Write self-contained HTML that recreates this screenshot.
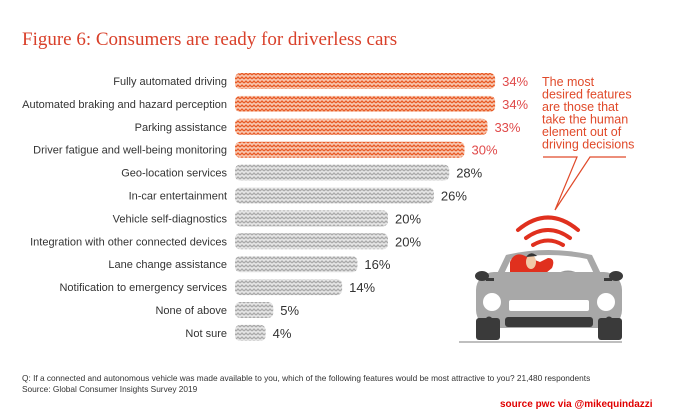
<!DOCTYPE html>
<html><head><meta charset="utf-8"><style>
body{margin:0;background:#fff;width:680px;height:415px;overflow:hidden;font-family:"Liberation Sans",sans-serif;}
</style></head><body>
<svg width="680" height="415" viewBox="0 0 680 415" xmlns="http://www.w3.org/2000/svg">
<defs>
<pattern id="po" width="4" height="4" patternUnits="userSpaceOnUse"><rect width="4" height="4" fill="#f8c7b0"/><path d="M0 3 L2 1 L4 3" stroke="#e85a25" stroke-width="1.3" fill="none"/></pattern>
<pattern id="pg" width="4" height="4" patternUnits="userSpaceOnUse"><rect width="4" height="4" fill="#e6e6e6"/><path d="M0 3 L2 1 L4 3" stroke="#a9a9a9" stroke-width="1.3" fill="none"/></pattern>
</defs>
<text x="22" y="45" font-family="Liberation Serif,serif" font-size="19" fill="#d9402a">Figure 6: Consumers are ready for driverless cars</text>
<g id="bars"></g>
<text font-size="12.5" fill="#e04a2a">
<tspan x="542" y="86">The most</tspan><tspan x="542" y="98.5">desired features</tspan><tspan x="542" y="111">are those that</tspan><tspan x="542" y="123.5">take the human</tspan><tspan x="542" y="136">element out of</tspan><tspan x="542" y="148.5">driving decisions</tspan></text>
<path d="M543 157 L577 157 L555 210 L590 157 L626 157" fill="none" stroke="#e04a2a" stroke-width="1.2"/>
<g>
<g fill="none" stroke="#e0301e" stroke-width="4" stroke-linecap="round">
<path d="M518 230 Q548 205 578 230"/><path d="M526 238 Q548 222 570 238"/><path d="M533 245 Q548 236 563 245"/></g>
<path d="M495 278 L506 255 Q548 245 592 255 L603 278 Z" fill="#a8a8a8"/>
<path d="M503 276 L511 259 Q548 251 587 259 L595 276 Z" fill="#fff"/>
<path d="M510 262 Q515 250 527 257 L540 262 L548 258 Q556 258 552 268 L540 278 L510 278 Z" fill="#e0301e"/>
<ellipse cx="531" cy="262" rx="5" ry="7" fill="#f1c9a8"/><path d="M526 257 Q531 250 537 256" fill="#333"/>
<path d="M556 276 Q568 267 580 276" stroke="#999" stroke-width="2" fill="none"/>
<rect x="476" y="272" width="146" height="56" rx="18" fill="#a8a8a8"/>
<rect x="476" y="318" width="24" height="22" rx="3" fill="#3a3a3a"/><rect x="598" y="318" width="24" height="22" rx="3" fill="#3a3a3a"/>
<ellipse cx="482" cy="276" rx="7" ry="5" fill="#3a3a3a"/><ellipse cx="616" cy="276" rx="7" ry="5" fill="#3a3a3a"/>
<rect x="486" y="278" width="8" height="3" fill="#3a3a3a"/><rect x="604" y="278" width="8" height="3" fill="#3a3a3a"/>
<circle cx="492" cy="302" r="9" fill="#fff"/><circle cx="606" cy="302" r="9" fill="#fff"/>
<rect x="509" y="300" width="80" height="11" rx="2" fill="#fff"/>
<rect x="505" y="317" width="88" height="10" rx="3" fill="#3a3a3a"/>
<circle cx="489" cy="320" r="3.5" fill="#3a3a3a"/><circle cx="609" cy="320" r="3.5" fill="#3a3a3a"/>
<line x1="459" y1="342" x2="622" y2="342" stroke="#aaa" stroke-width="1.5"/>
</g>
<text x="22" y="381" font-size="8.3" fill="#333">Q: If a connected and autonomous vehicle was made available to you, which of the following features would be most attractive to you?  21,480 respondents</text>
<text x="22" y="392" font-size="8.3" fill="#333">Source: Global Consumer Insights Survey 2019</text>
<text x="500" y="407" font-size="10" font-weight="bold" fill="#e00000">source pwc via @mikequindazzi</text>
</svg>
<script>
const categories=["Fully automated driving","Automated braking and hazard perception","Parking assistance","Driver fatigue and well-being monitoring","Geo-location services","In-car entertainment","Vehicle self-diagnostics","Integration with other connected devices","Lane change assistance","Notification to emergency services","None of above","Not sure"];
const values=[34,34,33,30,28,26,20,20,16,14,5,4];
const highlighted=[true,true,true,true,false,false,false,false,false,false,false,false];
const x0=235,sx=7.65,y0=81,dy=22.9,bh=16;
const xs=v=>x0+v*sx, ys=i=>y0+i*dy;
const g=document.getElementById('bars'),NS='http://www.w3.org/2000/svg';
categories.forEach((c,i)=>{
 const y=ys(i);
 const l=document.createElementNS(NS,'text');
 
 
 l.setAttribute('x',x0-8);l.setAttribute('y',y+4);l.setAttribute('text-anchor','end');l.setAttribute('font-size','11');l.setAttribute('fill','#333');l.textContent=c;g.appendChild(l);
 const r=document.createElementNS(NS,'rect');
 
 
 r.setAttribute('x',x0);r.setAttribute('y',y-bh/2);r.setAttribute('width',xs(values[i])-x0);r.setAttribute('height',bh);r.setAttribute('rx',5);
 r.setAttribute('fill',highlighted[i]?'url(#po)':'url(#pg)');g.appendChild(r);
 const v=document.createElementNS(NS,'text');
 
 
 v.setAttribute('x',xs(values[i])+7);v.setAttribute('y',y+5);v.setAttribute('font-size','13');v.setAttribute('fill',highlighted[i]?'#e04a4a':'#333');v.textContent=values[i]+'%';g.appendChild(v);
});
</script>
</body></html>
